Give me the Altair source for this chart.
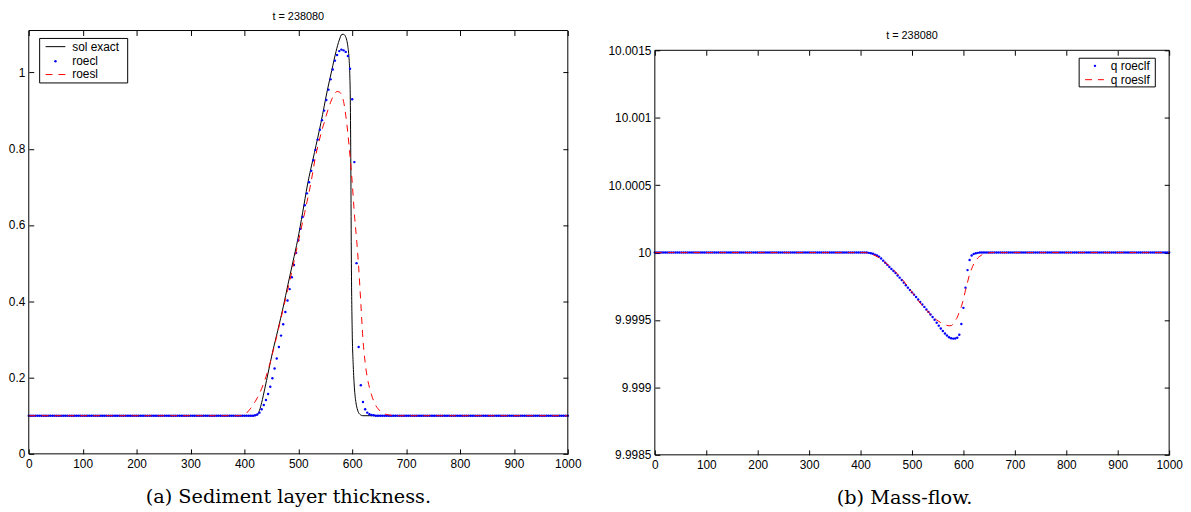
import altair as alt
import pandas as pd

# ---------------- data ----------------
x_grid = list(range(0, 1001, 4))

# exact solution (left panel)
exact_x = [0, 420, 424, 428, 432, 438, 444, 452, 462, 472, 481, 490, 499, 508, 517, 530, 542,
           554, 562, 570, 576, 581, 584, 587, 590, 592, 594, 595.5, 596.5, 597.5, 598.5, 600,
           602, 604, 607, 610, 614, 620, 1000]
exact_y = [0.1, 0.1, 0.103, 0.114, 0.134, 0.172, 0.212, 0.265, 0.324, 0.385, 0.445, 0.503, 0.562,
           0.632, 0.705, 0.79, 0.868, 0.954, 1.005, 1.055, 1.085, 1.1, 1.1, 1.096, 1.084, 1.068,
           1.04, 0.997, 0.93, 0.75, 0.5, 0.324, 0.23, 0.175, 0.134, 0.115, 0.104, 0.1, 0.1]

base_h = 0.1
roecl_start = 420
roecl_vals = [0.101, 0.103, 0.108, 0.117, 0.128, 0.141, 0.157, 0.176, 0.198, 0.224, 0.25, 0.28,
              0.31, 0.34, 0.372, 0.402, 0.432, 0.463, 0.495, 0.527, 0.56, 0.59, 0.621, 0.652,
              0.683, 0.712, 0.742, 0.77, 0.797, 0.824, 0.85, 0.875, 0.9, 0.928, 0.955, 0.982,
              1.008, 1.031, 1.046, 1.056, 1.06, 1.058, 1.054, 1.043, 1.01, 0.93, 0.765, 0.5,
              0.28, 0.18, 0.136, 0.117, 0.108, 0.104, 0.102, 0.101]
roesl_start = 396
roesl_vals = [0.101, 0.103, 0.107, 0.113, 0.12, 0.128, 0.137, 0.147, 0.158, 0.171, 0.186, 0.202,
              0.22, 0.24, 0.262, 0.285, 0.308, 0.332, 0.356, 0.38, 0.404, 0.428, 0.453, 0.478,
              0.504, 0.53, 0.556, 0.582, 0.608, 0.633, 0.66, 0.686, 0.715, 0.748, 0.78, 0.805,
              0.828, 0.85, 0.868, 0.888, 0.906, 0.922, 0.936, 0.946, 0.95, 0.949, 0.942, 0.924,
              0.888, 0.84, 0.78, 0.712, 0.63, 0.565, 0.49, 0.395, 0.3, 0.24, 0.2, 0.174, 0.154,
              0.138, 0.126, 0.118, 0.112, 0.108, 0.105, 0.103, 0.102, 0.101]

# mass flow (right panel): deviation from 10 in units of 1e-4
q_base = 10.0
roeclf_start = 416
roeclf_dev = [-0.02, -0.05, -0.09, -0.15, -0.22, -0.3, -0.44, -0.6, -0.76, -0.91, -1.07, -1.22,
              -1.37, -1.52, -1.7, -1.86, -2.04, -2.23, -2.42, -2.6, -2.77, -2.95, -3.12, -3.3,
              -3.48, -3.66, -3.85, -4.03, -4.22, -4.4, -4.59, -4.78, -4.98, -5.2, -5.42, -5.63,
              -5.82, -6.0, -6.15, -6.28, -6.35, -6.38, -6.37, -6.32, -6.1, -5.3, -4.1, -2.6,
              -1.3, -0.55, -0.22, -0.1, -0.05, -0.02]
roeslf_start = 412
roeslf_dev = [-0.02, -0.05, -0.1, -0.16, -0.22, -0.3, -0.39, -0.5, -0.62, -0.74, -0.86, -0.99,
              -1.13, -1.28, -1.43, -1.58, -1.75, -1.94, -2.13, -2.32, -2.52, -2.72, -2.94, -3.14,
              -3.35, -3.55, -3.75, -3.93, -4.1, -4.26, -4.42, -4.58, -4.74, -4.88, -5.0, -5.1,
              -5.2, -5.28, -5.34, -5.4, -5.43, -5.42, -5.3, -5.05, -4.8, -4.4, -4.0, -3.45, -2.8,
              -2.2, -1.6, -1.2, -0.85, -0.6, -0.4, -0.27, -0.17, -0.1, -0.06, -0.03, -0.01]

x_ticks = [0, 100, 200, 300, 400, 500, 600, 700, 800, 900, 1000]
y_ticks_left = [0, 0.2, 0.4, 0.6, 0.8, 1.0]
y_ticks_right = [9.9985, 9.999, 9.9995, 10.0, 10.0005, 10.001, 10.0015]

title_text = "t = 238080"
caption_left = "(a) Sediment layer thickness."
caption_right = "(b) Mass-flow."


def on_grid(start, vals, base):
    seg = dict(zip(range(start, start + 4 * len(vals), 4), vals))
    return [seg.get(x, base) for x in x_grid]


left_df = pd.DataFrame({
    "x": x_grid,
    "roecl": on_grid(roecl_start, roecl_vals, base_h),
    "roesl": on_grid(roesl_start, roesl_vals, base_h),
})
exact_df = pd.DataFrame({"x": exact_x, "y": exact_y})
right_df = pd.DataFrame({
    "x": x_grid,
    "roeclf": [round(q_base + d * 1e-4, 8) for d in on_grid(roeclf_start, roeclf_dev, 0.0)],
    "roeslf": [round(q_base + d * 1e-4, 8) for d in on_grid(roeslf_start, roeslf_dev, 0.0)],
})
one = pd.DataFrame({"k": [0]})

# ---------------- styles / layout ----------------
SANS = "Liberation Sans"
SERIF = "DejaVu Serif"
BLUE = "#0000ff"
RED = "#ff0000"
DASH = [7, 6]
W_L, H_L = 545, 428
W_R, H_R = 520, 409
DROP_R = 20          # right panel frame sits lower than the left one
CAP_PAD = 18


def axis(orient, values=None, fmt=None, labels=True, title=None, title_x=None, pad=4, offset=-5):
    kw = dict(orient=orient, offset=offset, tickSize=5, tickWidth=1, tickColor="black",
              domain=False, grid=False, labels=labels, labelFlush=False, labelPadding=pad,
              labelFont=SANS, labelFontSize=12, labelColor="black")
    if values is not None:
        kw["values"] = values
    if fmt is not None:
        kw["format"] = fmt
    if title is not None:
        kw.update(title=title, titleFont=SERIF, titleFontSize=19.5, titleFontWeight="normal",
                  titleColor="black", titlePadding=CAP_PAD)
        if title_x is not None:
            kw["titleX"] = title_x
    else:
        kw["title"] = None
    return alt.Axis(**kw)


xs = alt.Scale(domain=[0, 1000], nice=False, zero=False)
ysl = alt.Scale(domain=[0, 1.11], nice=False, zero=False)
ysr = alt.Scale(domain=[9.9985, 10.0015], range=[H_R + DROP_R, DROP_R], nice=False, zero=False)


def text_item(txt, x, y, align="left", size=12):
    return alt.Chart(one).mark_text(text=txt, align=align, baseline="middle", font=SANS,
                                    fontSize=size, color="black").encode(
        x=alt.value(x), y=alt.value(y))


def rule_item(x1, x2, y, color, dash=None):
    kw = dict(color=color, strokeWidth=1)
    if dash:
        kw["strokeDash"] = dash
    return alt.Chart(one).mark_rule(**kw).encode(x=alt.value(x1), x2=alt.value(x2), y=alt.value(y))


def dot_item(x, y):
    return alt.Chart(one).mark_circle(color=BLUE, size=6, opacity=1).encode(
        x=alt.value(x), y=alt.value(y))


def box_item(x1, x2, y1, y2, fill=True):
    kw = dict(stroke="black", strokeWidth=1)
    if fill:
        kw["fill"] = "white"
    else:
        kw["fillOpacity"] = 0
    return alt.Chart(one).mark_rect(**kw).encode(
        x=alt.value(x1), x2=alt.value(x2), y=alt.value(y1), y2=alt.value(y2))


# ---------------- left panel ----------------
exact_line = alt.Chart(exact_df).mark_line(color="black", strokeWidth=1, interpolate="monotone").encode(
    x=alt.X("x:Q", scale=xs, axis=axis("bottom", x_ticks, "d", pad=5, title=caption_left, title_x=262)),
    y=alt.Y("y:Q", scale=ysl, axis=axis("left", y_ticks_left, ".1~f")),
)
roecl_pts = alt.Chart(left_df).mark_circle(color=BLUE, size=6, opacity=1).encode(
    x=alt.X("x:Q", scale=xs, axis=axis("top", x_ticks, labels=False)),
    y=alt.Y("roecl:Q", scale=ysl, axis=axis("right", y_ticks_left, labels=False)),
)
roesl_line = alt.Chart(left_df).mark_line(color=RED, strokeWidth=1, strokeDash=DASH,
                                          interpolate="monotone").encode(
    x=alt.X("x:Q", scale=xs, axis=None),
    y=alt.Y("roesl:Q", scale=ysl, axis=None),
)

left = alt.layer(
    exact_line, roecl_pts, roesl_line,
    box_item(0, W_L, 0, H_L, fill=False),
    box_item(11, 100, 8, 53),
    rule_item(17, 37, 16.3, "black"),
    dot_item(27, 31),
    rule_item(17, 37, 44.5, RED, DASH),
    text_item("sol exact", 44, 16.3),
    text_item("roecl", 44, 31),
    text_item("roesl", 44, 44.5),
).properties(
    width=W_L, height=H_L,
    title=alt.TitleParams(title_text, font=SANS, fontSize=11, fontWeight="normal",
                          color="black", anchor="middle", offset=8),
)

# ---------------- right panel ----------------
roeclf_pts = alt.Chart(right_df).mark_circle(color=BLUE, size=6, opacity=1).encode(
    x=alt.X("x:Q", scale=xs, axis=axis("bottom", x_ticks, "d", pad=5, title=caption_right, title_x=252)),
    y=alt.Y("roeclf:Q", scale=ysr, axis=axis("left", y_ticks_right, ".4~f")),
)
roeslf_line = alt.Chart(right_df).mark_line(color=RED, strokeWidth=1, strokeDash=DASH,
                                            interpolate="monotone").encode(
    x=alt.X("x:Q", scale=xs, axis=axis("top", x_ticks, labels=False, offset=-5 - DROP_R)),
    y=alt.Y("roeslf:Q", scale=ysr, axis=axis("right", y_ticks_right, labels=False)),
)

right = alt.layer(
    roeclf_pts, roeslf_line,
    box_item(0, W_R, DROP_R, H_R + DROP_R, fill=False),
    text_item(title_text, W_R / 2, DROP_R - 14, align="center", size=11),
    box_item(429, 506, DROP_R + 8, DROP_R + 37),
    dot_item(445, DROP_R + 15.7),
    rule_item(435, 454, DROP_R + 29.7, RED, DASH),
    text_item("q roeclf", 461, DROP_R + 15.7),
    text_item("q roeslf", 461, DROP_R + 29.7),
).properties(width=W_R, height=H_R + DROP_R)

chart = alt.hconcat(left, right, spacing=26).properties(
    padding={"left": 0, "top": 0, "right": 0, "bottom": 0},
    background="white",
).configure_view(stroke=None)

chart.save("out.html", embed_options={"renderer": "svg", "actions": False})
